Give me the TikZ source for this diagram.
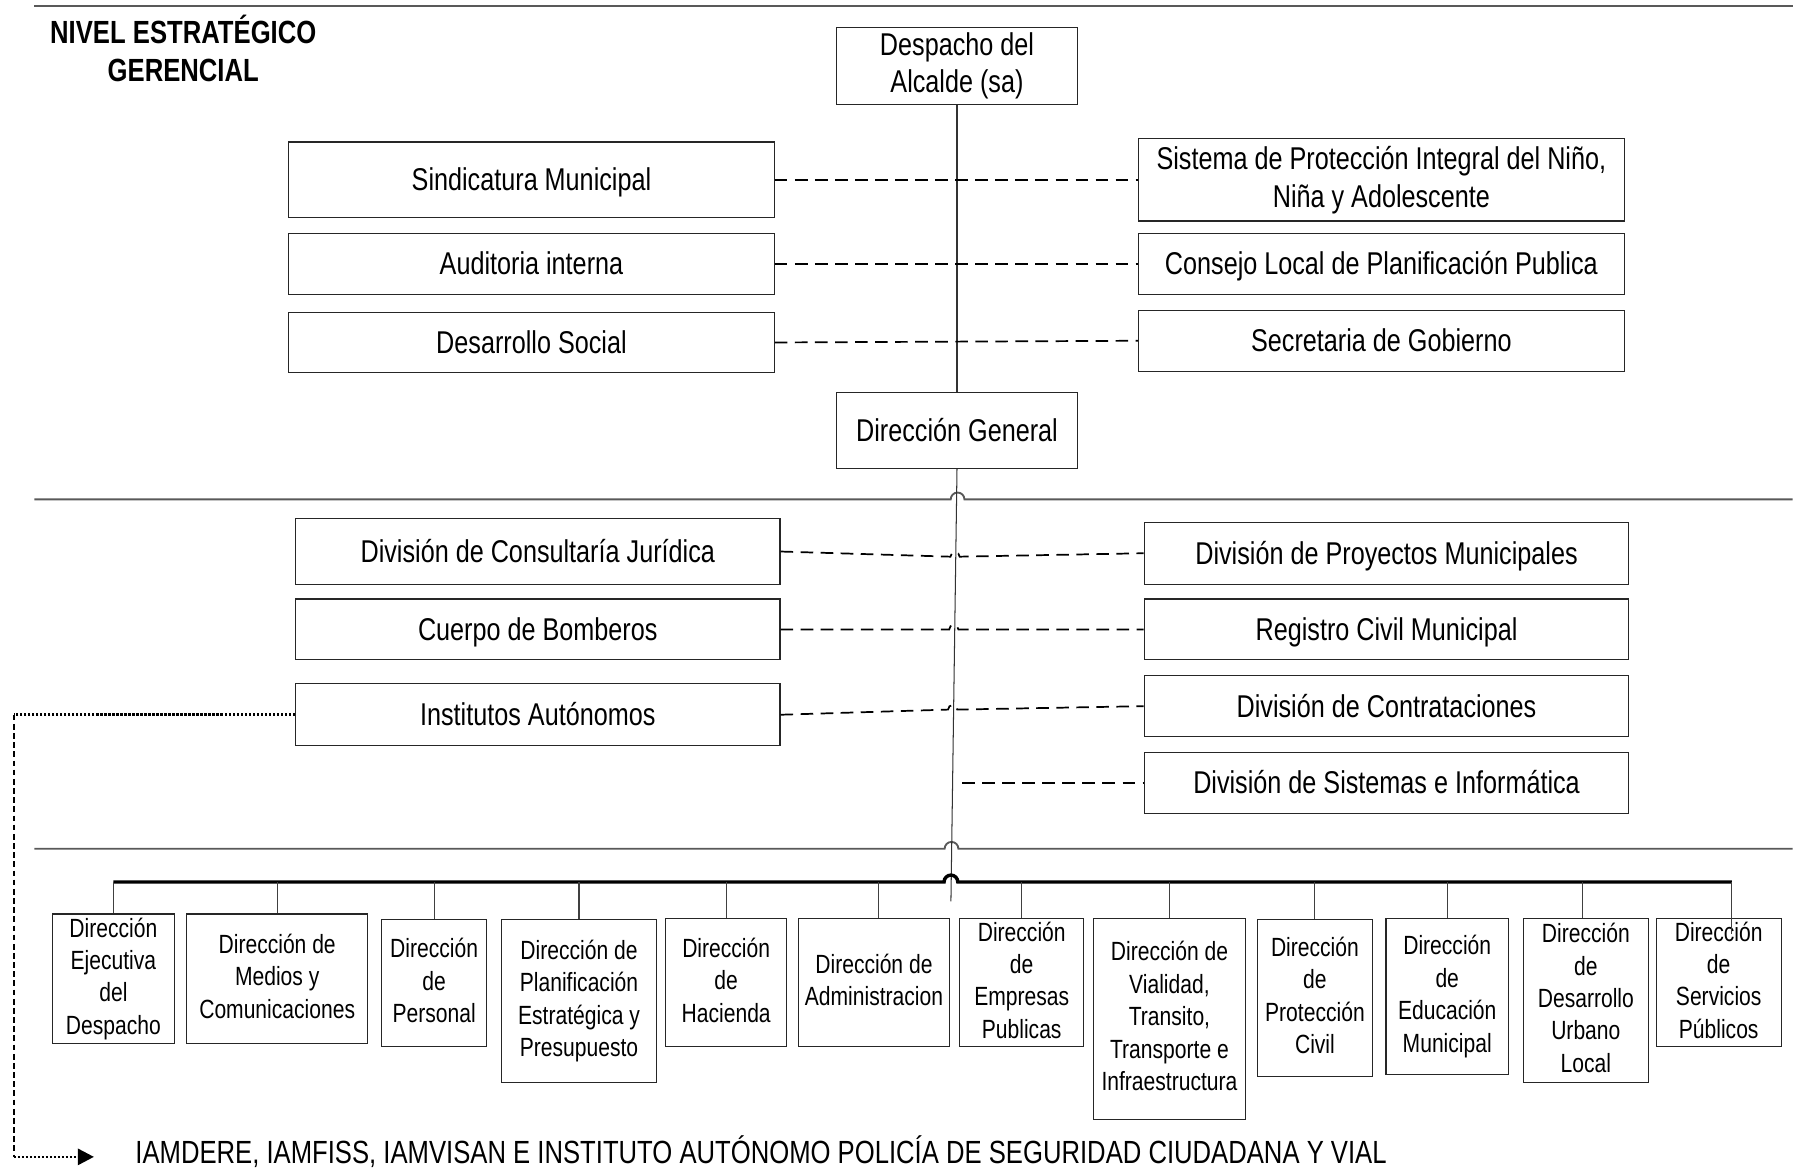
\documentclass[tikz,border=0pt]{standalone}
\usepackage{fontspec}
\setmainfont[FakeStretch=0.8]{Liberation Sans}
\usetikzlibrary{arrows.meta}
\tikzset{
  big/.style={font=\fontsize{27.5}{33}\selectfont,
    execute at begin node={\rule{0pt}{24.9pt}},
    execute at end node={\rule[-5.8pt]{0pt}{0pt}}},
  small/.style={font=\fontsize{23}{28.3}\selectfont,
    execute at begin node={\rule{0pt}{25pt}},
    execute at end node={\rule[-4.9pt]{0pt}{0pt}}},
  bx/.style 2 args={draw=black!85, line width=1pt, inner sep=0pt, align=center, minimum width=#1pt, minimum height=#2pt},
  sep/.style={draw=black!65, line width=1.6pt},
  vline/.style={draw=black!80, line width=0.9pt},
  dline/.style={draw=black, line width=1.5pt, dash pattern=on 11pt off 6.5pt},
  drop/.style={draw=black!75, line width=0.9pt},
  bus/.style={draw=black, line width=3pt},
  dotline/.style={draw=black, line width=2.4pt, dash pattern=on 2pt off 1.5pt},
}
\begin{document}
\begin{tikzpicture}[x=1pt,y=-1pt]
\useasboundingbox (0,0) rectangle (1568,1021);

% separators
\draw[sep] (30,5) -- (1565,5);
\draw[sep] (30,436) -- (830,436) arc[start angle=180,end angle=0,radius=6pt] -- (1565,436);
\draw[sep] (30,741) -- (824.7,741) arc[start angle=180,end angle=0,radius=6pt] -- (1565,741);

% heading
\node[font=\fontsize{28}{33}\selectfont\bfseries, align=center] (head) at (160,42) {NIVEL ESTRATÉGICO\\GERENCIAL};

% top level
\node[bx={211}{67}, big] (desp) at (835.5,57.5) {Despacho del\\Alcalde (sa)};
\node[bx={424}{66}, big] (sind) at (464,157) {Sindicatura Municipal};
\node[bx={424}{53}, big] (aud) at (464,230.5) {Auditoria interna};
\node[bx={424}{52}, big] (des) at (464,299) {Desarrollo Social};
\node[bx={424}{72}, big] (sist) at (1206,157) {Sistema de Protección Integral del Niño,\\Niña y Adolescente};
\node[bx={424}{53}, big] (cons) at (1206,230.5) {Consejo Local de Planificación Publica};
\node[bx={424}{53}, big] (secr) at (1206,297.5) {Secretaria de Gobierno};
\node[bx={211}{66}, big] (dg) at (835.5,376) {Dirección General};

\draw[vline] (desp.south) -- (dg.north);
\draw[dline] (sind.east) -- (sist.west);
\draw[dline] (aud.east) -- (cons.west);
\draw[dline] (des.east) -- (secr.west);

% second level
\node[bx={423}{57}, big] (jur) at (469.5,481.5) {División de Consultaría Jurídica};
\node[bx={423}{53}, big] (bomb) at (469.5,549.5) {Cuerpo de Bomberos};
\node[bx={423}{54}, big] (inst) at (469.5,624) {Institutos Autónomos};
\node[bx={423}{54}, big] (proy) at (1210.5,483) {División de Proyectos Municipales};
\node[bx={423}{53}, big] (reg) at (1210.5,549.5) {Registro Civil Municipal};
\node[bx={423}{53}, big] (contr) at (1210.5,616.5) {División de Contrataciones};
\node[bx={423}{53}, big] (sistm) at (1210.5,683.5) {División de Sistemas e Informática};

\coordinate (vend) at (830.2,787);
\draw[vline] (dg.south) -- (vend);

\draw[dline] (jur.east) -- (829.8,486) arc[start angle=180,end angle=0,radius=4pt] -- (proy.west);
\draw[dline] (bomb.east) -- (828.7,549.5) arc[start angle=180,end angle=0,radius=4pt] -- (reg.west);
\draw[dline] (inst.east) -- (827.7,619.5) arc[start angle=180,end angle=0,radius=4pt] -- (contr.west);
\coordinate (sstart) at (840,683.5);
\draw[dline] (sstart) -- (sistm.west);

% bus
\coordinate (busL) at (99,770);
\coordinate (busR) at (1512,770);
\draw[bus] (busL) -- (824.2,770) arc[start angle=180,end angle=0,radius=6pt] -- (busR);

% bottom boxes
\node[bx={106}{113}, small] (b1) at (99,854.5) {Dirección\\Ejecutiva\\del\\Despacho};
\node[bx={158}{113}, small] (b2) at (242,854.5) {Dirección de\\Medios y\\Comunicaciones};
\node[bx={92}{111}, small] (b3) at (379,858.5) {Dirección\\de\\Personal};
\node[bx={135}{142}, small] (b4) at (505.5,874) {Dirección de\\Planificación\\Estratégica y\\Presupuesto};
\node[bx={106}{112}, small] (b5) at (634,858) {Dirección\\de\\Hacienda};
\node[bx={132}{112}, small] (b6) at (763,858) {Dirección de\\Administracion};
\node[bx={108}{112}, small] (b7) at (892,858) {Dirección\\de\\Empresas\\Publicas};
\node[bx={132}{175}, small] (b8) at (1021,889.5) {Dirección de\\Vialidad,\\Transito,\\Transporte e\\Infraestructura};
\node[bx={100}{137}, small] (b9) at (1148,871.5) {Dirección\\de\\Protección\\Civil};
\node[bx={107}{136}, small] (b10) at (1263.5,870) {Dirección\\de\\Educación\\Municipal};
\node[bx={109}{143}, small] (b11) at (1384.5,873.5) {Dirección\\de\\Desarrollo\\Urbano\\Local};
\node[bx={109}{112}, small] (b12) at (1500.5,858) {Dirección\\de\\Servicios\\Públicos};

\foreach \b in {b1,b2,b3,b4,b5,b7,b8,b9,b10}
  \draw[drop] (\b.north) -- (\b.north |- busL);
\draw[drop] ([xshift=4pt]b6.north) -- ([xshift=4pt]b6.north |- busL);
\draw[drop] ([xshift=-2.5pt]b11.north) -- ([xshift=-2.5pt]b11.north |- busL);
\draw[drop] (busR) -- ([yshift=-14pt]busR |- b12.north);

% institutes link
\node[anchor=west, inner sep=0pt, font=\fontsize{28}{33}\selectfont] (iam) at (118,1005.5) {IAMDERE, IAMFISS, IAMVISAN E INSTITUTO AUTÓNOMO POLICÍA DE SEGURIDAD CIUDADANA Y VIAL};
\coordinate (c1) at (12,624);
\coordinate (c2) at (12,1010);
\draw[dotline] (inst.west) -- (c1);
\draw[black, line width=1.6pt, dash pattern=on 5pt off 3pt] (c1) -- (c2);
\draw[dotline, -{Triangle[length=14pt,width=14pt]}, shorten >=36pt] (c2) -- (c2 -| iam.west);
\end{tikzpicture}
\end{document}
